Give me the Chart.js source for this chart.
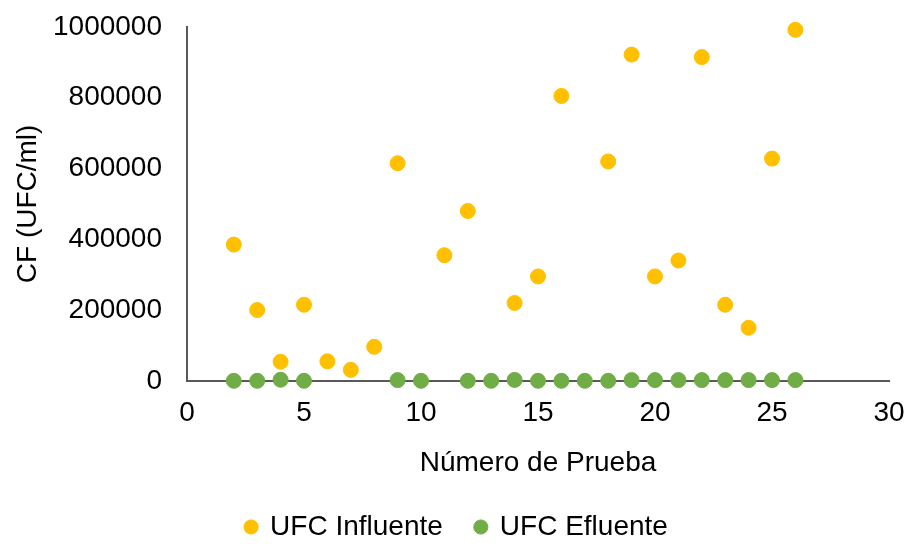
<!DOCTYPE html>
<html>
<head>
<meta charset="utf-8">
<script src="https://cdn.jsdelivr.net/npm/chart.js@4/dist/chart.umd.min.js"></script>
<style>
    html, body { margin: 0; padding: 0; background: #fff; }
    #wrap { width: 907px; height: 544px; }
</style>
</head>
<body>
<div id="wrap"><canvas id="chart"></canvas></div>
<script>
// Número de Prueba vs UFC
const influente_x = [2, 3, 4, 5, 6, 7, 8, 9, 11, 12, 14, 15, 16, 18, 19, 20, 21, 22, 23, 24, 25, 26];
const influente_y = [385000, 200000, 54000, 215000, 55000, 31000, 96000, 615000, 355000, 480000, 220000, 295000, 805000, 620000, 922000, 295000, 340000, 915000, 215000, 150000, 628000, 992000];
const efluente_x = [2, 3, 4, 5, 9, 10, 12, 13, 14, 15, 16, 17, 18, 19, 20, 21, 22, 23, 24, 25, 26];
const efluente_y = [0, 0, 3000, 0, 2000, 0, 0, 0, 2500, 0, 0, 0, 0, 2000, 2000, 2000, 2000, 2000, 2000, 2000, 2000];

const toPoints = (xs, ys) => xs.map((x, i) => ({ x: x, y: ys[i] }));

const font = "'Liberation Sans', Arial, sans-serif";
const fsize = 28;
const axisColor = "#595959";

const ctx = document.getElementById("chart").getContext("2d");

new Chart(ctx, {
    type: "scatter",
    data: {
        datasets: [
            {
                label: "UFC Influente",
                data: toPoints(influente_x, influente_y),
                backgroundColor: "#FFC000",
                borderColor: "#FFC000",
                pointRadius: 7.5,
                pointHoverRadius: 7.5,
                clip: false,
            },
            {
                label: "UFC Efluente",
                data: toPoints(efluente_x, efluente_y),
                backgroundColor: "#70AD47",
                borderColor: "#70AD47",
                pointRadius: 7.5,
                pointHoverRadius: 7.5,
                clip: false,
            },
        ],
    },
    options: {
        responsive: true,
        maintainAspectRatio: false,
        animation: false,
        layout: { autoPadding: false, padding: { left: 7, right: 0, top: 0, bottom: -7 } },
        plugins: {
            tooltip: { enabled: false },
            legend: {
                position: "bottom",
                labels: {
                    usePointStyle: true,
                    pointStyle: "circle",
                    boxWidth: 10,
                    boxHeight: 10,
                    padding: 33,
                    color: "#000",
                    font: { family: font, size: fsize },
                },
            },
        },
        scales: {
            x: {
                type: "linear",
                min: 0,
                max: 30,
                afterFit: (scale) => {
                    scale.paddingLeft = 0;
                    scale.paddingRight = 18;
                },
                ticks: { stepSize: 5, color: "#000", font: { family: font, size: fsize }, padding: 16, maxRotation: 0 },
                grid: { display: false, drawTicks: false },
                border: { color: axisColor, width: 2 },
                title: { display: true, text: "Número de Prueba", color: "#000", font: { family: font, size: fsize }, padding: { top: 0, bottom: 0 } },
            },
            y: {
                min: 0,
                max: 1000000,
                afterFit: (scale) => {
                    scale.width = 180;
                    scale.paddingTop = 27;
                    scale.paddingBottom = 0;
                },
                ticks: {
                    stepSize: 200000,
                    color: "#000",
                    font: { family: font, size: fsize },
                    padding: 25,
                    callback: (v) => String(v),
                },
                grid: { display: false, drawTicks: false },
                border: { color: axisColor, width: 2 },
                title: { display: true, text: "CF (UFC/ml)", color: "#000", font: { family: font, size: fsize }, padding: 4 },
            },
        },
    },
});
</script>
</body>
</html>
